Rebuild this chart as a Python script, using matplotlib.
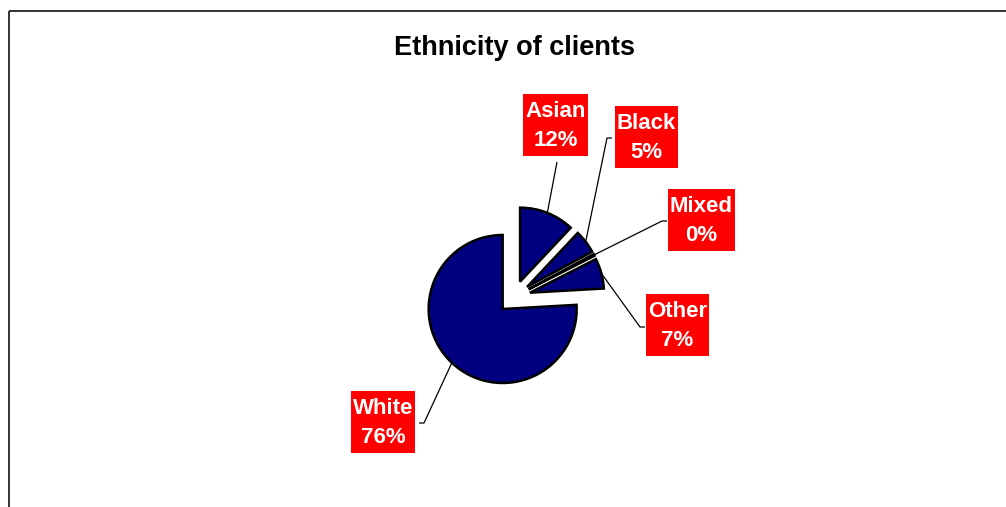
import matplotlib
matplotlib.use("Agg")
import matplotlib.pyplot as plt
import numpy as np
from matplotlib.patches import Rectangle

# ---- data ----
categories = ["Asian", "Black", "Mixed", "Other", "White"]
values = [12.0, 5.1, 0.4, 6.6, 75.9]
title = "Ethnicity of clients"

# ---- layout (pixel coordinates, y measured from top) ----
W, H = 1006, 507
center_px = (514, 297)
radius_px = 74
explode_px = 16.5
label_center_px = {"Asian": (555.5, 125), "Black": (646.5, 137), "Mixed": (701.5, 220),
                   "Other": (677.5, 325), "White": (383, 422)}
label_box_h = 62
# leader start points (tick start, tick end) in pixels
leader_start_px = {"Asian": [(557, 162), (557, 162)],
                   "Black": [(612, 138), (607, 138)],
                   "Mixed": [(667, 221), (662, 221)],
                   "Other": [(645, 327), (640, 327)],
                   "White": [(419, 423), (424, 423)]}

FONT = ["Liberation Sans", "DejaVu Sans"]
plt.rcParams["font.family"] = FONT

fig = plt.figure(figsize=(W / 100, H / 100), dpi=100)
ax = fig.add_axes([0, 0, 1, 1])


def py(y):
    return H - y


wedges, _ = ax.pie(values, explode=[explode_px] * len(values),
                   center=(center_px[0], py(center_px[1])), radius=radius_px,
                   startangle=90, counterclock=False, colors=["#000080"] * len(values),
                   wedgeprops=dict(edgecolor="black", linewidth=1.8),
                   frame=True)
ax.set_xlim(0, W)
ax.set_ylim(0, H)
ax.set_aspect("equal")
ax.axis("off")

# outer frame
ax.add_patch(Rectangle((9, py(11)), W + 20, -(H + 20), fill=False,
                       edgecolor="#333333", linewidth=1.4, clip_on=False))

ax.text(515, py(55), title, ha="center", va="baseline", fontsize=19.5,
        fontweight="bold", color="black")

total = sum(values)
texts = []
for name, v, w in zip(categories, values, wedges):
    mid = np.deg2rad((w.theta1 + w.theta2) / 2)
    cx, cy = w.center
    ex, ey = cx + w.r * np.cos(mid), cy + w.r * np.sin(mid)
    pts = leader_start_px[name]
    xs = [p[0] for p in pts] + [ex]
    ys = [py(p[1]) for p in pts] + [ey]
    ax.plot(xs, ys, color="black", linewidth=0.9, solid_capstyle="butt")
    lx, ly = label_center_px[name]
    t = ax.text(lx, py(ly) - 1, f"{name}\n{round(v / total * 100)}%", ha="center",
                va="center", fontsize=16, fontweight="bold", color="white",
                linespacing=1.5, zorder=5)
    texts.append((t, lx, ly))

fig.canvas.draw()
renderer = fig.canvas.get_renderer()
for t, lx, ly in texts:
    bb = t.get_window_extent(renderer)
    bw = bb.width + 4
    ax.add_patch(Rectangle((lx - bw / 2, py(ly) - label_box_h / 2), bw, label_box_h,
                           facecolor="#FF0000", edgecolor="none", zorder=4))

fig.savefig("out.png", dpi=100)
